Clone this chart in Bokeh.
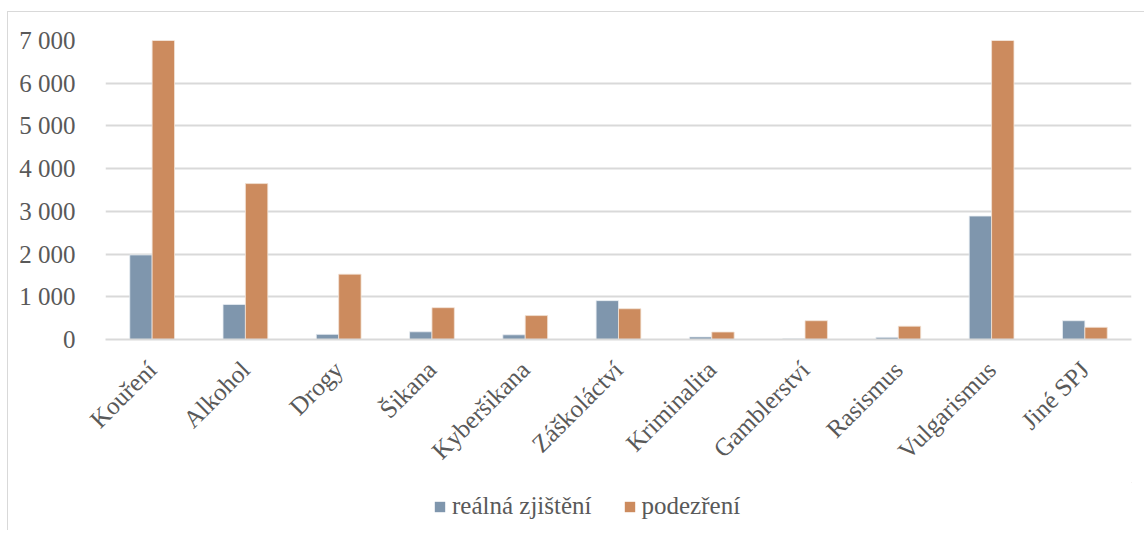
from bokeh.plotting import figure
from bokeh.layouts import column
from bokeh.models import ColumnDataSource, FactorRange, Range1d, Legend, LegendItem, FixedTicker
from bokeh.transform import dodge
from bokeh.embed import file_html
from bokeh.resources import INLINE
import math

categories = ["Kouření", "Alkohol", "Drogy", "Šikana", "Kyberšikana", "Záškoláctví",
              "Kriminalita", "Gamblerství", "Rasismus", "Vulgarismus", "Jiné SPJ"]
realna = [1980, 820, 120, 180, 110, 910, 60, 15, 50, 2890, 440]
podezreni = [7000, 3650, 1530, 745, 560, 720, 175, 440, 312, 7000, 285]
series_names = ["reálná zjištění", "podezření"]
y_ticks = [0, 1000, 2000, 3000, 4000, 5000, 6000, 7000]
y_tick_labels = ["0", "1 000", "2 000", "3 000", "4 000", "5 000", "6 000", "7 000"]

FONT = "Liberation Serif"
FS = "25px"
TXT = "#595959"
C_BLUE = "#7F96AD"
C_ORANGE = "#CC8B5E"
L_BLUE = "#E8EDF2"
L_ORANGE = "#F3E3D7"
GRID = "#D9D9D9"

src = ColumnDataSource(dict(cat=categories, real=realna, pod=podezreni))

p = figure(x_range=FactorRange(*categories, range_padding=0), y_range=Range1d(0, 7000),
           width=1136, height=470, output_backend="svg", toolbar_location=None,
           min_border_left=97, min_border_right=13, min_border_top=28, min_border_bottom=143)

p.vbar(x=dodge("cat", -0.12, range=p.x_range), top="real", width=0.24, source=src,
       fill_color=C_BLUE, line_color=L_BLUE, line_width=0.8)
p.vbar(x=dodge("cat", 0.12, range=p.x_range), top="pod", width=0.24, source=src,
       fill_color=C_ORANGE, line_color=L_ORANGE, line_width=0.8)

p.outline_line_color = None
p.xgrid.grid_line_color = None
p.ygrid.grid_line_color = GRID
p.ygrid.grid_line_width = 2
p.yaxis.ticker = FixedTicker(ticks=y_ticks)
p.yaxis.major_label_overrides = {t: l for t, l in zip(y_ticks, y_tick_labels)}
p.yaxis.axis_line_color = None
p.yaxis.major_tick_line_color = None
p.yaxis.minor_tick_line_color = None
p.yaxis.major_label_standoff = 24

p.xaxis.axis_line_color = GRID
p.xaxis.axis_line_width = 2
p.xaxis.major_tick_line_color = None
p.xaxis.minor_tick_line_color = None
p.xaxis.major_label_orientation = math.pi / 4
p.xaxis.major_label_standoff = 20

for ax in (p.xaxis, p.yaxis):
    ax.major_label_text_font = FONT
    ax.major_label_text_font_size = FS
    ax.major_label_text_color = TXT

# legend strip below the chart (its renderers hold one point far outside the visible range)
pl = figure(x_range=Range1d(0, 1), y_range=Range1d(0, 1), width=1136, height=48,
            output_backend="svg", toolbar_location=None, x_axis_type=None, y_axis_type=None,
            min_border=0)
pl.outline_line_color = None
pl.grid.visible = False
d1 = pl.vbar(x=[60], bottom=[60], top=[61], width=0.1, fill_color=C_BLUE, line_color=None)
d2 = pl.vbar(x=[60], bottom=[60], top=[61], width=0.1, fill_color=C_ORANGE, line_color=None)
legend = Legend(items=[LegendItem(label=series_names[0], renderers=[d1]),
                       LegendItem(label=series_names[1], renderers=[d2])],
                orientation="horizontal", location=(328, 10),
                glyph_width=13, glyph_height=13, label_standoff=6, spacing=31,
                padding=0, margin=0, border_line_color=None, background_fill_alpha=0,
                label_text_font=FONT, label_text_font_size=FS, label_text_color=TXT,
                label_height=26)
pl.add_layout(legend, "center")

layout = column(p, pl, spacing=0)
layout.styles = {"margin-top": "11px", "margin-left": "7px",
                 "border-top": "1.5px solid #D9D9D9", "border-left": "1.5px solid #D9D9D9"}

open("out.html", "w").write(file_html(layout, INLINE))
